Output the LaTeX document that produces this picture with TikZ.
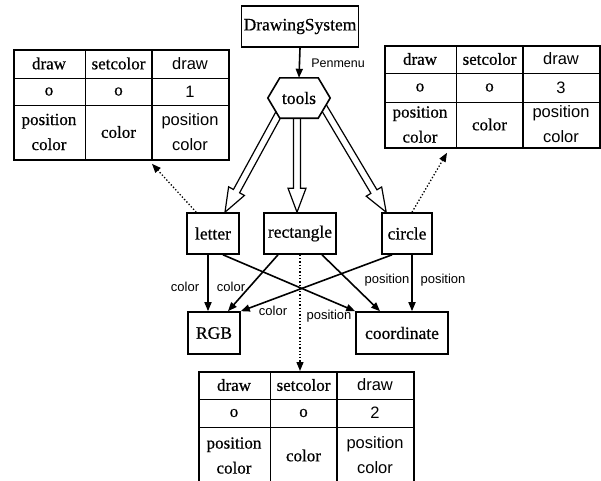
\documentclass[tikz,border=0pt]{standalone}
\usepackage{fontspec}
\setmainfont{Liberation Serif}[FakeBold=0.6]
\setsansfont{Liberation Sans}
\usetikzlibrary{arrows.meta,calc}
\pgfdeclarelayer{under}
\pgfsetlayers{under,main}

% outlined block arrow from #1 to #2; #3 prefixes the helper coordinate
\newcommand\hollowarrow[3]{%
  \coordinate (#3base) at ($(#2)!24pt!(#1)$);
  \draw[hollow] ($(#1)!3.5pt!90:(#2)$) -- ($(#3base)!3.5pt!90:(#2)$)
    -- ($(#3base)!9pt!90:(#2)$) -- (#2) -- ($(#3base)!9pt!-90:(#2)$)
    -- ($(#3base)!3.5pt!-90:(#2)$) -- ($(#1)!3.5pt!-90:(#2)$);
}

% three-column call table: name, left, top, row rule 1, row rule 2, bottom, count
\newcommand\cwtable[7]{%
  \node[tblframe,anchor=north west,minimum height={(#6-#3)*1pt}] (#1) at (#2,#3) {};
  \draw[thinrule] (#2,#4) -- ({#2+215},#4) (#2,#5) -- ({#2+215},#5)
    ({#2+72},#3) -- ({#2+72},#6);
  \draw[thickrule] ({#2+139},#3) -- ({#2+139},#6);
  \node[serifcell] (#1a1) at ({#2+36},{(#3+#4)/2}) {draw};
  \node[serifcell] (#1b1) at ({#2+105.5},{(#3+#4)/2}) {setcolor};
  \node[sanscell]  (#1c1) at ({#2+177},{(#3+#4)/2}) {draw};
  \node[serifcell] (#1a2) at ({#2+36},{(#4+#5)/2}) {o};
  \node[serifcell] (#1b2) at ({#2+105.5},{(#4+#5)/2}) {o};
  \node[sanscell]  (#1c2) at ({#2+177},{(#4+#5)/2}) {#7};
  \node[serifcell] (#1a3) at ({#2+36},{(#5+#6)/2}) {position\\color};
  \node[serifcell] (#1b3) at ({#2+105.5},{(#5+#6)/2}) {color};
  \node[sanscell]  (#1c3) at ({#2+177},{(#5+#6)/2}) {position\\color};
}

\begin{document}
\begin{tikzpicture}[x=1pt,y=-1pt,
  box/.style={draw,line width=1.6pt,inner sep=0pt,minimum height=41pt,
    font=\fontsize{17.5}{20}\selectfont},
  lab/.style={font=\sffamily\fontsize{13}{15}\selectfont,inner sep=0pt},
  link/.style={line width=1.6pt,-{Triangle[length=9pt,width=7pt]}},
  dotlink/.style={line width=1.3pt,dotted,-{Triangle[length=9pt,width=7pt]}},
  hollow/.style={line width=1.2pt,fill=white,line join=miter},
  tblframe/.style={draw,line width=1.8pt,inner sep=0pt,minimum width=215pt},
  thinrule/.style={line width=0.9pt},
  thickrule/.style={line width=1.8pt},
  serifcell/.style={font=\fontsize{17}{25}\selectfont,align=center,inner sep=0pt},
  sanscell/.style={font=\sffamily\fontsize{16.5}{25}\selectfont,align=center,inner sep=0pt}]

\useasboundingbox (0,0) rectangle (601,480);

% call tables
\cwtable{tL}{13}{49}{78}{105}{159}{1}
\cwtable{tR}{384}{45}{73}{102}{147}{3}
\cwtable{tB}{198}{371}{399}{427}{484}{2}

% class boxes
\node[box,minimum width=117pt] (sys) at (300,26.5) {DrawingSystem};
\node[inner sep=0pt,minimum width=62pt,minimum height=40pt,
  font=\fontsize{17.5}{20}\selectfont] (tools) at (299,98) {tools};
\node[box,minimum width=52pt] (letter) at (213,233.5) {letter};
\node[box,minimum width=72pt] (rect) at (300,233.5) {rectangle};
\node[box,minimum width=50pt] (circ) at (407,233.5) {circle};
\node[box,minimum width=52pt,minimum height=42pt] (rgb) at (214,333) {RGB};
\node[box,minimum width=92pt,minimum height=42pt] (coord) at (402,333) {coordinate};

% inheritance arrows and the hexagon drawn beneath the labels
\begin{pgfonlayer}{under}
  \coordinate (hsL) at ($(tools.center)+(-16.5,9)$);
  \coordinate (hsM) at ($(tools.center)+(-2,7)$);
  \coordinate (hsR) at ($(tools.center)+(21,3)$);
  \coordinate (heL) at ($(letter.north)+(12,0)$);
  \coordinate (heM) at ($(rect.north)+(-3,0)$);
  \coordinate (heR) at ($(circ.north west)+(5,0)$);
  \hollowarrow{hsL}{heL}{hL}
  \hollowarrow{hsM}{heM}{hM}
  \hollowarrow{hsR}{heR}{hR}
  \draw[line width=1.6pt,fill=white,line join=miter]
    (tools.west) -- ($(tools.north west)+(12,0)$) -- ($(tools.north east)+(-12,0)$)
    -- (tools.east) -- ($(tools.south east)+(-12,0)$) -- ($(tools.south west)+(12,0)$)
    -- cycle;
\end{pgfonlayer}

% menu link
\draw[link] (sys.south) -- (tools.north)
  node[pos=0.5,anchor=west,xshift=11pt,inner sep=0pt,
    font=\sffamily\fontsize{12.5}{14}\selectfont] (pm) {Penmenu};

% uses
\draw[link] ($(letter.south)+(-5,0)$) -- ($(rgb.north)+(-6,0)$);
\draw[link] ($(letter.south)+(10,0)$) -- (coord.north west);
\draw[link] ($(rect.south)+(-22,0)$) -- ($(rgb.north)+(14,0)$);
\draw[link] ($(rect.south)+(22,0)$) -- ($(coord.north)+(-22,0)$);
\draw[link] ($(circ.south)+(-15,0)$) -- (rgb.north east);
\draw[link] ($(circ.south)+(5,0)$) -- ($(coord.north)+(10,0)$);

\node[lab] (l1) at (185,287) {color};
\node[lab] (l2) at (231,287) {color};
\node[lab] (l3) at (273,311) {color};
\node[lab] (l4) at (329,316) {position};
\node[lab] (l5) at (387,280) {position};
\node[lab] (l6) at (443,280) {position};

% links to the call tables
\draw[dotlink] ($(letter.north west)+(10,0)$) -- ($(tL.south west)+(139,3)$);
\draw[dotlink] ($(circ.north)+(5,0)$) -- ($(tR.south west)+(63,4)$);
\draw[dotlink] (rect.south) -- (rect.south |- tB.north);
\end{tikzpicture}
\end{document}
